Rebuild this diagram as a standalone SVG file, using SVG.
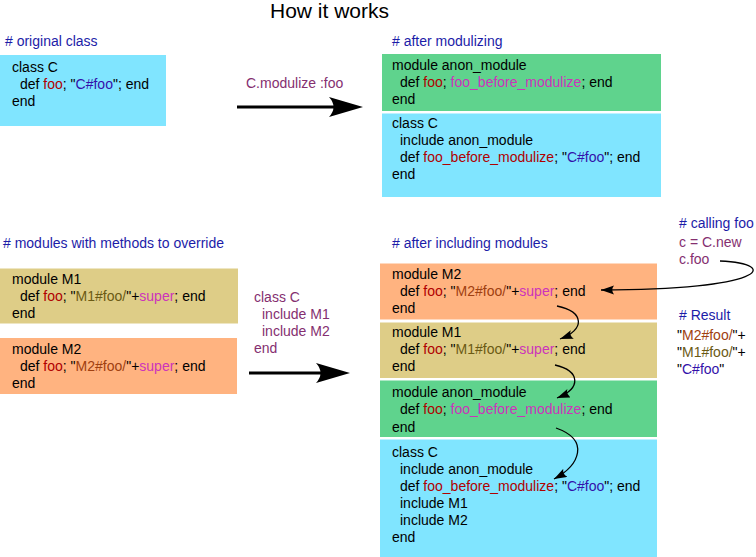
<svg xmlns="http://www.w3.org/2000/svg" width="756" height="557" viewBox="0 0 756 557">
<defs>
<style>
text{font-family:"Liberation Sans",Arial,sans-serif;font-size:14px;fill:#000}
.title{font-size:21px}
.h{fill:#1c1ca8}
.p{fill:#852f70}
.r{fill:#b00000}
.i{fill:#3311aa}
.m{fill:#cc33bb}
.b{fill:#a04010}
.o{fill:#6b5a14}
.cy{fill:#80e5ff}
.gr{fill:#5fd38d}
.kh{fill:#decd87}
.sa{fill:#ffb380}
.big{stroke:#000;stroke-width:3;fill:none}
.thin{stroke:#000;stroke-width:1.3;fill:none}
</style>
<marker id="bighead" markerUnits="userSpaceOnUse" markerWidth="36" markerHeight="22" refX="8" refY="10" orient="auto" viewBox="0 0 36 22">
<path d="M0,0 L34,10 L0,20 Q9,10 0,0 Z" fill="#000"/>
</marker>
<marker id="smallhead" markerUnits="userSpaceOnUse" markerWidth="14" markerHeight="10" refX="13" refY="4.5" orient="auto" viewBox="0 0 14 10">
<path d="M0,0 L13,4.5 L0,9 Q3.5,4.5 0,0 Z" fill="#000"/>
</marker>
</defs>
<rect width="756" height="557" fill="#fff"/>
<text class="title" x="270" y="18">How it works</text>

<text class="h" x="5" y="46"># original class</text>
<g id="orig-class-c">
<rect class="cy" x="0" y="55" width="166" height="71"/>
<text x="12" y="72">class C</text>
<text x="20" y="89">def <tspan class="r">foo</tspan>; "<tspan class="i">C#foo</tspan>"; end</text>
<text x="12" y="106">end</text>
</g>

<text class="h" x="392" y="46"># after modulizing</text>
<g id="mod-anon-module">
<rect class="gr" x="382" y="54" width="279" height="57"/>
<text x="392" y="69.5">module anon_module</text>
<text x="400" y="87">def <tspan class="r">foo</tspan>; <tspan class="m">foo_before_modulize</tspan>; end</text>
<text x="392" y="104">end</text>
</g>
<g id="mod-class-c">
<rect class="cy" x="382" y="113.5" width="279" height="83.5"/>
<text x="392" y="127.5">class C</text>
<text x="400" y="144.5">include anon_module</text>
<text x="400" y="161.5">def <tspan class="r">foo_before_modulize</tspan>; "<tspan class="i">C#foo</tspan>"; end</text>
<text x="392" y="178.5">end</text>
</g>

<text class="h" x="3" y="248"># modules with methods to override</text>
<g id="left-m1">
<rect class="kh" x="0" y="268.5" width="238" height="55"/>
<text x="12" y="283.5">module M1</text>
<text x="20" y="300.5">def <tspan class="r">foo</tspan>; "<tspan class="o">M1#foo/</tspan>"+<tspan class="m">super</tspan>; end</text>
<text x="12" y="317.5">end</text>
</g>
<g id="left-m2">
<rect class="sa" x="0" y="338" width="237" height="56"/>
<text x="12" y="353.5">module M2</text>
<text x="20" y="370.5">def <tspan class="r">foo</tspan>; "<tspan class="b">M2#foo/</tspan>"+<tspan class="m">super</tspan>; end</text>
<text x="12" y="387.5">end</text>
</g>

<text class="h" x="392" y="248"># after including modules</text>
<g id="inc-m2">
<rect class="sa" x="380" y="263.5" width="277" height="56"/>
<text x="392" y="278.5">module M2</text>
<text x="400" y="295.5">def <tspan class="r">foo</tspan>; "<tspan class="b">M2#foo/</tspan>"+<tspan class="m">super</tspan>; end</text>
<text x="392" y="312.5">end</text>
</g>
<g id="inc-m1">
<rect class="kh" x="380" y="322.5" width="277" height="55.5"/>
<text x="392" y="337">module M1</text>
<text x="400" y="354">def <tspan class="r">foo</tspan>; "<tspan class="o">M1#foo/</tspan>"+<tspan class="m">super</tspan>; end</text>
<text x="392" y="371">end</text>
</g>
<g id="inc-anon-module">
<rect class="gr" x="380" y="380.5" width="277" height="56.5"/>
<text x="392" y="397">module anon_module</text>
<text x="400" y="414">def <tspan class="r">foo</tspan>; <tspan class="m">foo_before_modulize</tspan>; end</text>
<text x="392" y="431.5">end</text>
</g>
<g id="inc-class-c">
<rect class="cy" x="380" y="439.5" width="277" height="117.5"/>
<text x="392" y="457">class C</text>
<text x="400" y="474">include anon_module</text>
<text x="400" y="491">def <tspan class="r">foo_before_modulize</tspan>; "<tspan class="i">C#foo</tspan>"; end</text>
<text x="400" y="508">include M1</text>
<text x="400" y="525">include M2</text>
<text x="392" y="542">end</text>
</g>

<g id="calling-foo">
<text class="h" x="679" y="228"># calling foo</text>
<text class="p" x="679" y="246.5">c = C.new</text>
<text class="p" x="679" y="264">c.foo</text>
</g>
<g id="result">
<text class="h" x="679" y="320"># Result</text>
<text x="677" y="340">"<tspan class="b">M2#foo/</tspan>"+</text>
<text x="677" y="357">"<tspan class="o">M1#foo/</tspan>"+</text>
<text x="677" y="374">"<tspan class="i">C#foo</tspan>"</text>
</g>

<g id="connectors">
<text class="p" x="246" y="88">C.modulize :foo</text>
<line class="big" x1="237" y1="107" x2="337" y2="107" marker-end="url(#bighead)"/>
<text class="p" x="254" y="302">class C</text>
<text class="p" x="262" y="319">include M1</text>
<text class="p" x="262" y="336">include M2</text>
<text class="p" x="254" y="353">end</text>
<line class="big" x1="249" y1="373" x2="324" y2="373" marker-end="url(#bighead)"/>
<path class="thin" d="M720,261 C782,264 765,290 601,290" marker-end="url(#smallhead)"/>
<path class="thin" d="M557,306 C585,312 585,330 560,339" marker-end="url(#smallhead)"/>
<path class="thin" d="M555,365 C580,371 582,388 557,398" marker-end="url(#smallhead)"/>
<path class="thin" d="M556,428 C590,440 580,465 554,479" marker-end="url(#smallhead)"/>
</g>
</svg>
